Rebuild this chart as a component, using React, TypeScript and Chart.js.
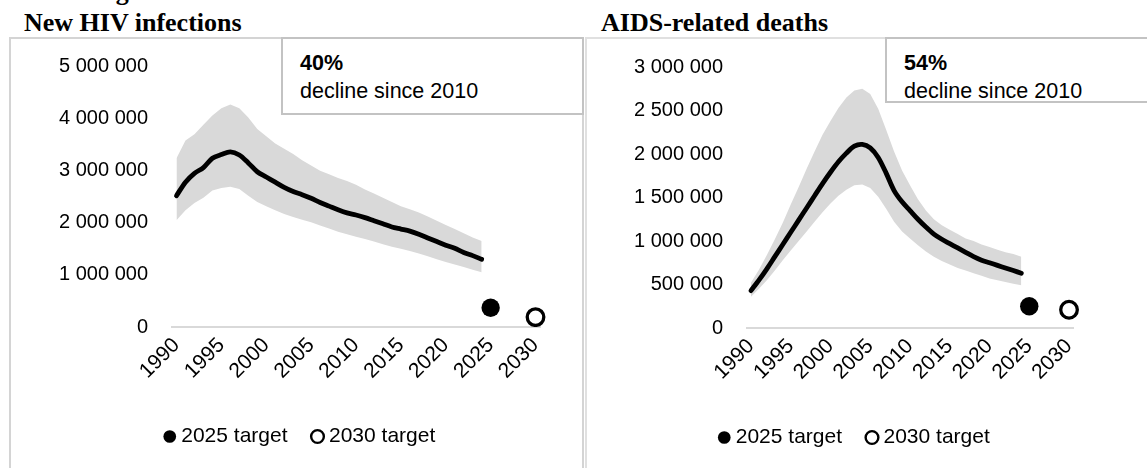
import React, { useEffect, useRef } from 'react';
import { Chart, registerables } from 'chart.js';

Chart.register(...registerables);

// ---- categories (x axis) ----
const years = [
  '1990', '1991', '1992', '1993', '1994', '1995', '1996', '1997', '1998', '1999',
  '2000', '2001', '2002', '2003', '2004', '2005', '2006', '2007', '2008', '2009',
  '2010', '2011', '2012', '2013', '2014', '2015', '2016', '2017', '2018', '2019',
  '2020', '2021', '2022', '2023', '2024', '2025', '2026', '2027', '2028', '2029', '2030',
];
const tickLabels = ['1990', '1995', '2000', '2005', '2010', '2015', '2020', '2025', '2030'];

// ---- New HIV infections (1990-2024) ----
const hivCentral = [
  2520000, 2780000, 2950000, 3060000, 3240000, 3310000, 3360000, 3300000, 3150000, 2980000,
  2880000, 2780000, 2680000, 2600000, 2540000, 2470000, 2390000, 2320000, 2250000, 2190000,
  2150000, 2100000, 2040000, 1980000, 1920000, 1880000, 1840000, 1780000, 1710000, 1640000,
  1570000, 1510000, 1430000, 1370000, 1300000,
];
const hivUpper = [
  3240000, 3580000, 3700000, 3880000, 4060000, 4200000, 4270000, 4200000, 4020000, 3800000,
  3660000, 3520000, 3420000, 3320000, 3200000, 3100000, 3000000, 2930000, 2860000, 2800000,
  2730000, 2640000, 2560000, 2480000, 2400000, 2320000, 2260000, 2200000, 2120000, 2040000,
  1960000, 1880000, 1800000, 1720000, 1650000,
];
const hivLower = [
  2050000, 2240000, 2380000, 2480000, 2620000, 2670000, 2690000, 2650000, 2520000, 2400000,
  2320000, 2240000, 2170000, 2110000, 2060000, 2010000, 1950000, 1890000, 1830000, 1780000,
  1730000, 1690000, 1640000, 1590000, 1540000, 1500000, 1460000, 1410000, 1360000, 1300000,
  1250000, 1200000, 1150000, 1100000, 1050000,
];
const hivTarget2025 = 370000;
const hivTarget2030 = 190000;
const hivYTicks = [0, 1000000, 2000000, 3000000, 4000000, 5000000];

// ---- AIDS-related deaths (1990-2024) ----
const deathsCentral = [
  430000, 550000, 680000, 820000, 960000, 1100000, 1240000, 1380000, 1520000, 1660000,
  1790000, 1910000, 2010000, 2090000, 2110000, 2070000, 1960000, 1780000, 1580000, 1450000,
  1350000, 1250000, 1160000, 1080000, 1020000, 970000, 920000, 870000, 820000, 780000,
  750000, 720000, 690000, 660000, 630000,
];
const deathsUpper = [
  520000, 670000, 840000, 1020000, 1210000, 1420000, 1620000, 1830000, 2030000, 2220000,
  2380000, 2530000, 2650000, 2730000, 2750000, 2690000, 2520000, 2280000, 2030000, 1810000,
  1640000, 1480000, 1350000, 1250000, 1180000, 1130000, 1080000, 1030000, 1000000, 960000,
  930000, 900000, 870000, 850000, 820000,
];
const deathsLower = [
  360000, 450000, 550000, 660000, 780000, 890000, 1000000, 1110000, 1220000, 1330000,
  1430000, 1520000, 1590000, 1640000, 1650000, 1610000, 1510000, 1370000, 1220000, 1110000,
  1030000, 950000, 880000, 820000, 770000, 730000, 690000, 660000, 630000, 600000,
  570000, 550000, 530000, 510000, 490000,
];
const deathsTarget2025 = 250000;
const deathsTarget2030 = 210000;
const deathsYTicks = [0, 500000, 1000000, 1500000, 2000000, 2500000, 3000000];

const SANS = "'Liberation Sans', Arial, sans-serif";

function fmt(v: number): string {
  return String(Math.round(v)).replace(/\B(?=(\d{3})+(?!\d))/g, ' ');
}

type Cfg = {
  central: number[];
  upper: number[];
  lower: number[];
  t2025: number;
  t2030: number;
  yTicks: number[];
  padRight: number;
  padTop: number;
  padBottom: number;
  yWidth: number;
  legendDx: number;
};

function buildConfig(c: Cfg): any {
  const t25 = years.map((y) => (y === '2025' ? c.t2025 : null));
  const t30 = years.map((y) => (y === '2030' ? c.t2030 : null));
  const yMax = c.yTicks[c.yTicks.length - 1];
  const step = c.yTicks[1] - c.yTicks[0];
  const legendShift = {
    id: 'legendShift',
    afterLayout(chart: any) {
      const l = chart.legend;
      if (l) {
        l.left += c.legendDx;
        l.right += c.legendDx;
      }
    },
  };
  return {
    type: 'line',
    plugins: [legendShift],
    data: {
      labels: years,
      datasets: [
        {
          label: '2025 target',
          data: t25,
          showLine: false,
          pointRadius: 9.2,
          pointHoverRadius: 9.2,
          pointBackgroundColor: '#000',
          pointBorderColor: '#000',
          pointBorderWidth: 0,
          backgroundColor: '#000',
          borderColor: '#000',
        },
        {
          label: '2030 target',
          data: t30,
          showLine: false,
          pointRadius: 8.3,
          pointHoverRadius: 8.3,
          pointBackgroundColor: '#fff',
          pointBorderColor: '#000',
          pointBorderWidth: 3.3,
          backgroundColor: '#fff',
          borderColor: '#000',
        },
        {
          label: 'estimate',
          data: c.central,
          borderColor: '#000',
          borderWidth: 4.8,
          pointRadius: 0,
          tension: 0.3,
          fill: false,
          borderCapStyle: 'round',
          borderJoinStyle: 'round',
        },
        {
          label: 'upper',
          data: c.upper,
          borderWidth: 0,
          borderColor: 'rgba(0,0,0,0)',
          pointRadius: 0,
          backgroundColor: '#d9d9d9',
          fill: 4,
        },
        {
          label: 'lower',
          data: c.lower,
          borderWidth: 0,
          borderColor: 'rgba(0,0,0,0)',
          pointRadius: 0,
          fill: false,
        },
      ],
    },
    options: {
      responsive: false,
      animation: false,
      devicePixelRatio: 1,
      events: [],
      layout: { padding: { left: 0, right: c.padRight, top: c.padTop, bottom: c.padBottom } },
      plugins: {
        tooltip: { enabled: false },
        title: { display: false },
        legend: {
          display: true,
          position: 'bottom',
          labels: {
            usePointStyle: true,
            boxWidth: 2,
            boxHeight: 9,
            padding: 29,
            color: '#000',
            font: { family: SANS, size: 21 },
            generateLabels: (chart: any) =>
              Chart.defaults.plugins.legend.labels
                .generateLabels(chart)
                .filter((it: any) => it.datasetIndex < 2)
                .map((it: any) => ({ ...it, lineWidth: it.datasetIndex === 1 ? 2.4 : 0 })),
          },
        },
      },
      scales: {
        x: {
          type: 'category',
          offset: true,
          grid: { display: false, drawTicks: false },
          border: { display: true, color: '#d9d9d9', width: 2 },
          ticks: {
            autoSkip: false,
            minRotation: 45,
            maxRotation: 45,
            padding: 6,
            color: '#000',
            font: { family: SANS, size: 21 },
            callback: (_v: any, idx: number) => (tickLabels.includes(years[idx]) ? years[idx] : ''),
          },
          afterFit: (s: any) => {
            s.height = 70;
          },
        },
        y: {
          min: 0,
          max: yMax,
          grid: { display: false, drawTicks: false },
          border: { display: false },
          ticks: {
            stepSize: step,
            padding: 24,
            color: '#000',
            font: { family: SANS, size: 20 },
            callback: (v: any) => fmt(Number(v)),
          },
          afterFit: (s: any) => {
            s.width = c.yWidth;
            s.paddingTop = 10;
            s.paddingBottom = 10;
          },
        },
      },
    },
  };
}

const headingStyle: React.CSSProperties = {
  position: 'absolute',
  fontFamily: "'Liberation Serif', 'Times New Roman', serif",
  fontWeight: 'bold',
  fontSize: 26,
  lineHeight: '28px',
  color: '#000',
  whiteSpace: 'nowrap',
};

const noteBox: React.CSSProperties = {
  position: 'absolute',
  boxSizing: 'border-box',
  border: '2px solid #c3c3c3',
  background: '#fff',
  paddingLeft: 17,
  paddingTop: 10,
  fontFamily: SANS,
  fontSize: 21.5,
  lineHeight: '28px',
  color: '#000',
  whiteSpace: 'nowrap',
};

export default function App() {
  const leftRef = useRef<HTMLCanvasElement>(null);
  const rightRef = useRef<HTMLCanvasElement>(null);

  useEffect(() => {
    const c1 = new Chart(
      leftRef.current as HTMLCanvasElement,
      buildConfig({
        central: hivCentral,
        upper: hivUpper,
        lower: hivLower,
        t2025: hivTarget2025,
        t2030: hivTarget2030,
        yTicks: hivYTicks,
        padRight: 41,
        padTop: 27.5,
        padBottom: 11,
        yWidth: 161,
        legendDx: 26.5,
      })
    );
    const c2 = new Chart(
      rightRef.current as HTMLCanvasElement,
      buildConfig({
        central: deathsCentral,
        upper: deathsUpper,
        lower: deathsLower,
        t2025: deathsTarget2025,
        t2030: deathsTarget2030,
        yTicks: deathsYTicks,
        padRight: 74,
        padTop: 28,
        padBottom: 10,
        yWidth: 160,
        legendDx: 26.5,
      })
    );
    return () => {
      c1.destroy();
      c2.destroy();
    };
  }, []);

  return (
    <div
      style={{
        position: 'absolute',
        left: 0,
        top: 0,
        width: 1147,
        height: 468,
        overflow: 'hidden',
        background: '#fff',
      }}
    >
      <div style={{ ...headingStyle, left: 24, top: -22 }}>2030 targets</div>
      <div style={{ ...headingStyle, left: 24, top: 9 }}>New HIV infections</div>
      <div style={{ ...headingStyle, left: 601, top: 9 }}>AIDS-related deaths</div>

      <div
        style={{
          position: 'absolute',
          left: 9,
          top: 37,
          width: 575,
          height: 500,
          boxSizing: 'border-box',
          border: '2px solid #d4d4d4',
        }}
      />
      <div
        style={{
          position: 'absolute',
          left: 585,
          top: 37,
          width: 600,
          height: 500,
          boxSizing: 'border-box',
          border: '2px solid #e0e0e0',
        }}
      />

      <canvas
        ref={leftRef}
        width={570}
        height={429}
        style={{ position: 'absolute', left: 11, top: 39, width: 570, height: 429 }}
      />
      <canvas
        ref={rightRef}
        width={560}
        height={429}
        style={{ position: 'absolute', left: 587, top: 39, width: 560, height: 429 }}
      />

      <div style={{ ...noteBox, left: 281, top: 37, width: 303, height: 78 }}>
        <div style={{ fontWeight: 'bold' }}>40%</div>
        <div>decline since 2010</div>
      </div>
      <div style={{ ...noteBox, left: 885, top: 37, width: 300, height: 66 }}>
        <div style={{ fontWeight: 'bold' }}>54%</div>
        <div>decline since 2010</div>
      </div>
    </div>
  );
}
